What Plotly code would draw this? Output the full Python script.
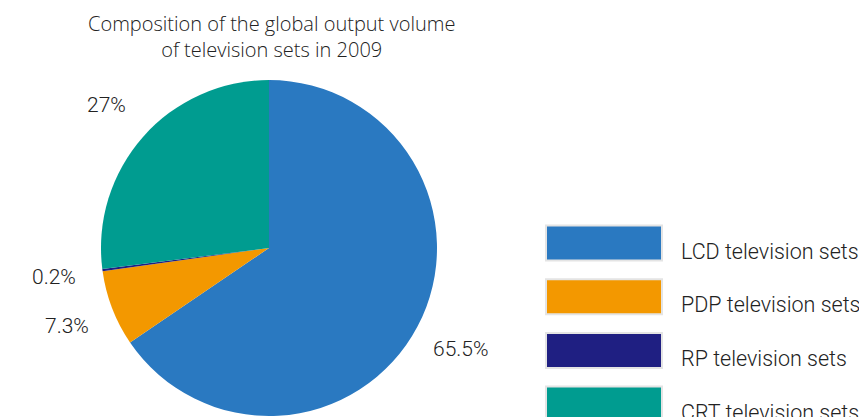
import math
import plotly.graph_objects as go

categories = ["LCD television sets", "PDP television sets", "RP television sets", "CRT television sets"]
shares = [65.5, 7.3, 0.2, 27]
colors = ["#2a79c1", "#f39800", "#1f1f82", "#009c90"]
title_lines = ["Composition of the global output volume", "of television sets in 2009"]

W, H = 867, 417
OFF = 8  # page body margin
cx, cy, R = 269 - OFF, 248 - OFF, 168
LABEL_K = 1.29
FONT = dict(family="Roboto", color="#222222", weight=300)

fig = go.Figure()
fig.add_trace(go.Pie(
    labels=categories,
    values=shares,
    sort=False,
    direction="clockwise",
    rotation=0,
    marker=dict(colors=colors, line=dict(width=0)),
    textinfo="none",
    domain=dict(x=[(cx - R) / W, (cx + R) / W], y=[1 - (cy + R) / H, 1 - (cy - R) / H]),
    showlegend=False,
    hovertemplate="%{label}: %{value}%<extra></extra>",
))

# percentage labels placed outside each slice, along its mid-angle
total = sum(shares)
cum = 0.0
for v in shares:
    mid = (cum + v / 2) / total * 2 * math.pi
    cum += v
    lx = cx + LABEL_K * R * math.sin(mid)
    ly = cy - LABEL_K * R * math.cos(mid)
    fig.add_annotation(xref="paper", yref="paper", x=lx / W, y=1 - ly / H,
                       xanchor="center", yanchor="middle", showarrow=False,
                       text=f"{v:g}%", font=dict(size=21, **FONT))

# custom legend with big swatches
box_x0, box_x1 = 546 - OFF, 662 - OFF
row0, row_gap, box_h = 243 - OFF, 53.7, 35
for i, (name, col) in enumerate(zip(categories, colors)):
    yc = row0 + i * row_gap
    fig.add_shape(type="rect", xref="paper", yref="paper",
                  x0=box_x0 / W, x1=box_x1 / W,
                  y0=1 - (yc - box_h / 2) / H, y1=1 - (yc + box_h / 2) / H,
                  fillcolor=col, line=dict(color="#e4e4e4", width=2))
    fig.add_annotation(xref="paper", yref="paper", x=(679 - OFF) / W, y=1 - (yc + 8) / H,
                       xanchor="left", yanchor="middle", showarrow=False,
                       text=name, font=dict(size=21.5, **FONT))

# title (two centred lines)
fig.add_annotation(xref="paper", yref="paper", x=(271 - OFF) / W, y=1 - (36 - OFF) / H,
                   xanchor="center", yanchor="middle", showarrow=False,
                   text="<br>".join(title_lines),
                   font=dict(family="Open Sans", size=20, color="#222222", weight=300))

fig.update_layout(
    width=W, height=H,
    margin=dict(l=0, r=0, t=0, b=0),
    paper_bgcolor="white", plot_bgcolor="white",
)

fig.write_html("out.html")
